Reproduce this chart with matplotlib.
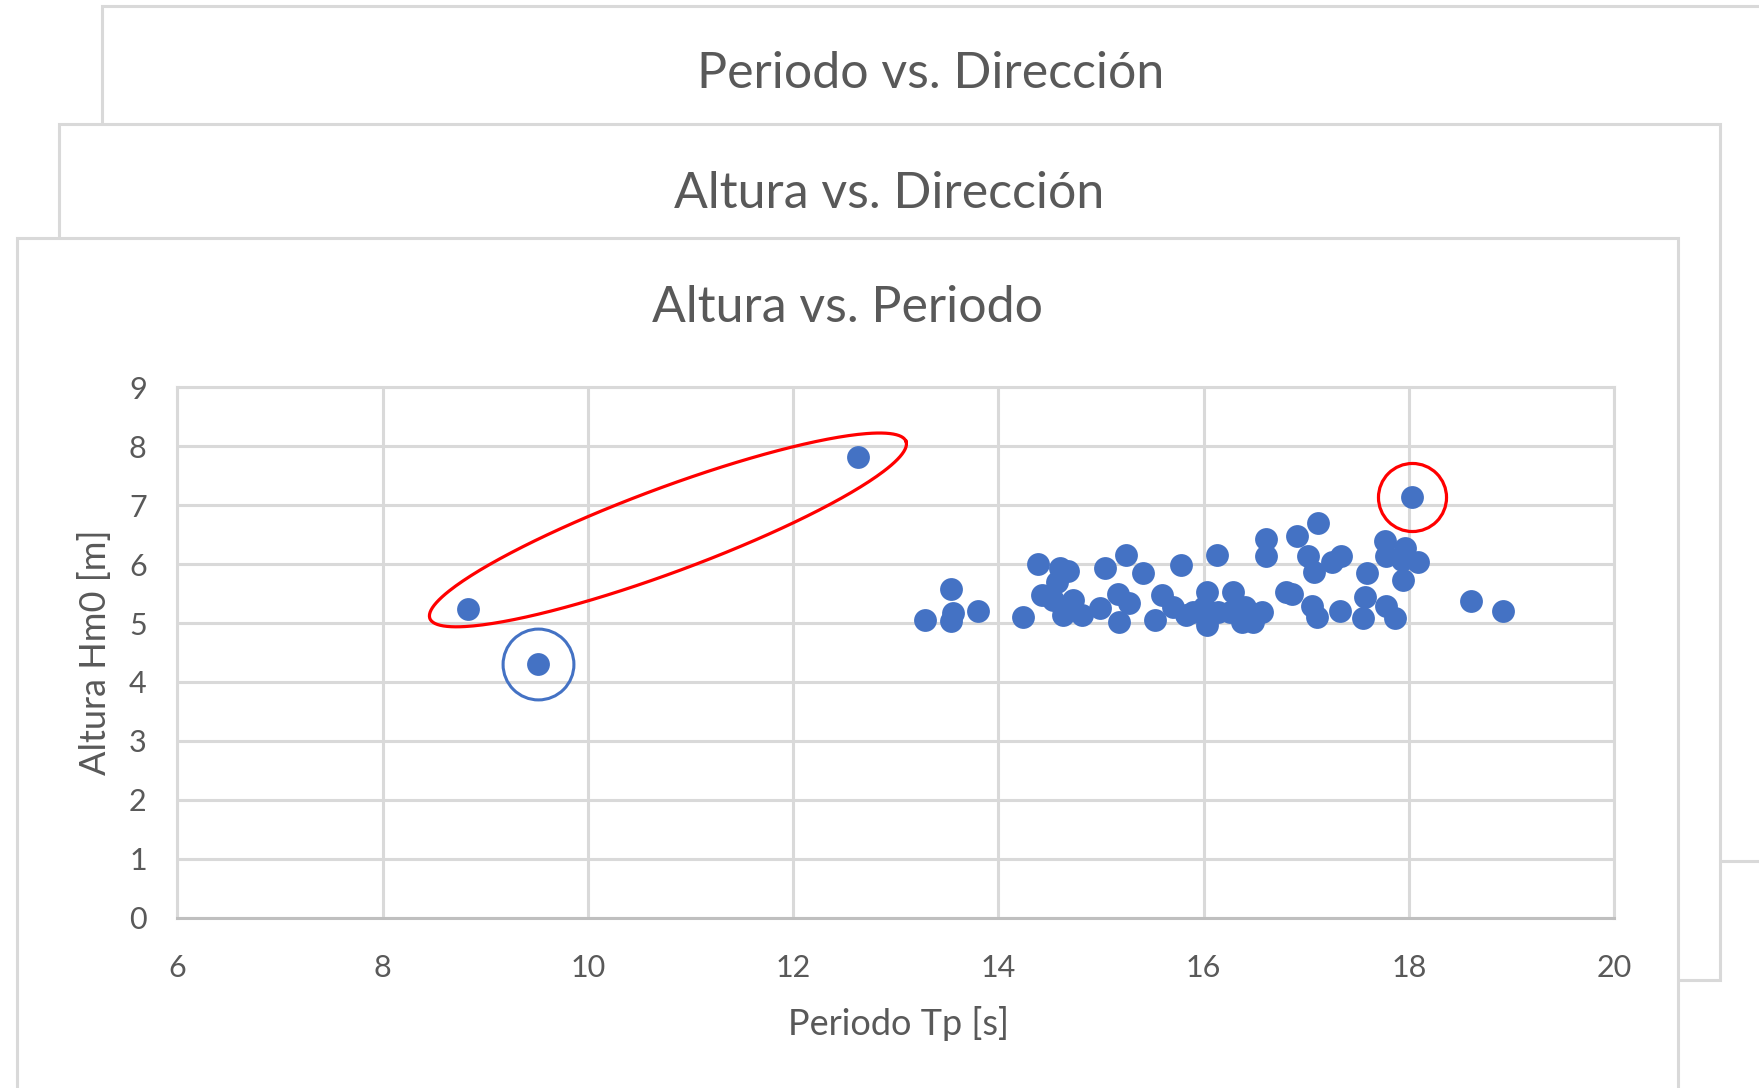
import numpy as np
import matplotlib.pyplot as plt
from matplotlib.patches import Rectangle

plt.rcParams['font.family'] = ['Lato', 'DejaVu Sans']

# Periodo Tp [s] vs Altura Hm0 [m]
periodo = [8.83, 9.51, 12.63, 18.03,
           13.28, 13.54, 13.56, 13.54, 13.80,
           14.24, 14.39, 14.60, 14.68, 14.57, 14.42, 14.53, 14.63, 14.73, 14.81, 14.99,
           15.04, 15.24, 15.41, 15.16, 15.27, 15.17, 15.59, 15.53, 15.70, 15.83, 15.78, 15.90,
           16.03, 16.00, 16.03, 16.14, 16.13, 16.29, 16.26, 16.40, 16.37, 16.57, 16.48,
           16.61, 16.61, 16.80, 16.86, 16.91,
           17.11, 17.02, 17.07, 17.25, 17.34, 17.59, 17.77, 17.78, 17.96, 17.93, 18.09, 17.94,
           17.05, 17.10, 17.33, 17.57, 17.55, 17.78, 17.86,
           18.60, 18.92]
altura = [5.24, 4.31, 7.81, 7.14,
          5.05, 5.57, 5.17, 5.04, 5.21,
          5.11, 6.01, 5.93, 5.89, 5.70, 5.48, 5.39, 5.14, 5.39, 5.14, 5.25,
          5.93, 6.15, 5.85, 5.50, 5.34, 5.02, 5.48, 5.05, 5.28, 5.14, 5.99, 5.19,
          5.53, 5.28, 4.97, 5.19, 6.15, 5.53, 5.19, 5.28, 5.02, 5.19, 5.02,
          6.42, 6.13, 5.53, 5.49, 6.47,
          6.69, 6.13, 5.87, 6.04, 6.13, 5.85, 6.40, 6.13, 6.27, 6.07, 6.04, 5.73,
          5.29, 5.11, 5.21, 5.44, 5.08, 5.29, 5.08,
          5.37, 5.21]

titles = ["Periodo vs. Dirección", "Altura vs. Dirección", "Altura vs. Periodo"]

W, H = 1759, 1088
fig = plt.figure(figsize=(W / 100, H / 100), dpi=100)


def fx(px):
    return px / W


def fy(py):
    return 1 - py / H


# stacked chart cards (back to front) and their titles
cards = [(102, 6, 1800, 861), (59.5, 124.5, 1720, 980), (17, 238, 1678, 1120)]
title_pos = [(931, 88), (889.5, 208.5), (848, 322.5)]
for (x0, y0, x1, y1), (tx, ty), t in zip(cards, title_pos, titles):
    fig.add_artist(Rectangle((fx(x0), fy(y1)), fx(x1) - fx(x0), fy(y0) - fy(y1),
                             transform=fig.transFigure, facecolor='white',
                             edgecolor='#d9d9d9', lw=2.2, zorder=0))
    fig.text(fx(tx), fy(ty), t, ha='center', va='baseline', fontsize=36,
             color='#595959', zorder=1)

ax = fig.add_axes([fx(177.3), fy(917.7), (1614.3 - 177.3) / W, (917.7 - 387.3) / H])
ax.set_zorder(2)
ax.set_facecolor('none')
ax.set_xlim(6, 20)
ax.set_ylim(0, 9)
ax.set_xticks(range(6, 21, 2))
ax.set_yticks(range(0, 10))
ax.grid(True, color='#d9d9d9', lw=2.2)
ax.set_axisbelow(True)
for s in ['left', 'top', 'right']:
    ax.spines[s].set_color('#d9d9d9')
    ax.spines[s].set_linewidth(2.2)
ax.spines['bottom'].set_color('#bfbfbf')
ax.spines['bottom'].set_linewidth(2.2)
ax.tick_params(length=0, labelsize=22, colors='#595959')
ax.tick_params(axis='y', pad=22)
ax.tick_params(axis='x', pad=26)

ax.scatter(periodo, altura, s=270, color='#4472C4', linewidths=0, zorder=3)

# highlight circles
ax.plot(periodo[3], altura[3], 'o', ms=49, mfc='none', mec='#ff0000', mew=2.3,
        zorder=4, clip_on=False)
ax.plot(periodo[1], altura[1], 'o', ms=51, mfc='none', mec='#4472C4', mew=2.2,
        zorder=4, clip_on=False)

# slanted ellipse around the two other outliers (sizes in pixels)
ell_center = (10.78, 6.58)
ell_a, ell_b, ell_ang = 254, 42, np.radians(20.4)
tt = np.linspace(0, 2 * np.pi, 300)
cx, cy = ax.transData.transform(ell_center)
px = cx + ell_a * np.cos(tt) * np.cos(ell_ang) - ell_b * np.sin(tt) * np.sin(ell_ang)
py = cy + ell_a * np.cos(tt) * np.sin(ell_ang) + ell_b * np.sin(tt) * np.cos(ell_ang)
ex, ey = ax.transData.inverted().transform(np.column_stack([px, py])).T
ax.plot(ex, ey, color='#ff0000', lw=2.3, zorder=4, clip_on=False)

fig.text(fx(898), fy(1035), "Periodo Tp [s]", ha='center', va='baseline',
         fontsize=26, color='#595959', zorder=1)
fig.text(fx(95), fy(652), "Altura Hm0 [m]", ha='center', va='center',
         rotation=90, fontsize=26, color='#595959', zorder=1)

fig.savefig('out.png', dpi=100)
